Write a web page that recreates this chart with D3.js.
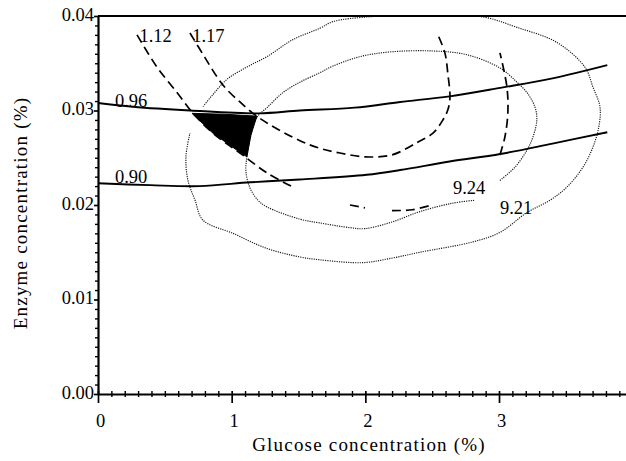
<!DOCTYPE html>
<html>
<head>
<meta charset="utf-8">
<script src="https://cdn.jsdelivr.net/npm/d3@7"></script>
<style>
  body { margin: 0; background: #fff; }
  svg { display: block; }
  text { font-family: "Liberation Serif", "Times New Roman", serif; fill: #000; }
</style>
</head>
<body>
<svg id="chart" width="626" height="461"></svg>
<script>
// Axis ticks
const xTicks = [0, 1, 2, 3];
const xTickLabels = ["0", "1", "2", "3"];
const yTicks = [0, 0.01, 0.02, 0.03, 0.04];
const yTickLabels = ["0.00", "0.01", "0.02", "0.03", "0.04"];

// Iso-response lines: [glucose %, enzyme %]
const line096 = [[0, 0.0308], [0.26, 0.0304], [0.69, 0.0300], [1.2, 0.0297], [1.51, 0.0300], [1.92, 0.0303],
  [2.26, 0.0309], [2.63, 0.0315], [3.01, 0.0324], [3.40, 0.0334], [3.81, 0.0348]];
const line090 = [[0, 0.0223], [0.39, 0.0221], [0.76, 0.0220], [1.14, 0.0224], [1.51, 0.0227], [2.01, 0.0232],
  [2.26, 0.0237], [2.63, 0.0246], [3.01, 0.0254], [3.40, 0.0265], [3.81, 0.0277]];

// 1.12 contour, drawn in the pieces that survive on the plot
const line112 = [
  [[0.292, 0.0380], [0.441, 0.0346], [0.591, 0.0319], [0.711, 0.0297], [0.860, 0.0276], [1.062, 0.0255],
   [1.264, 0.0234], [1.458, 0.0219]],
  [[1.885, 0.0200], [1.997, 0.0197]],
  [[2.199, 0.0194], [2.350, 0.0195], [2.498, 0.0200]],
  [[3.007, 0.0253], [3.044, 0.0272], [3.066, 0.0297], [3.059, 0.0325], [3.007, 0.0361]]
];
const line117 = [[0.688, 0.0382], [0.800, 0.0356], [0.898, 0.0334], [0.965, 0.0322], [1.062, 0.0309],
  [1.159, 0.0297], [1.286, 0.0285], [1.511, 0.0268], [1.660, 0.0260], [1.810, 0.0255], [1.997, 0.0251],
  [2.199, 0.0253], [2.386, 0.0266], [2.506, 0.0276], [2.580, 0.0290], [2.618, 0.0301], [2.633, 0.0314],
  [2.618, 0.0338], [2.595, 0.0361], [2.543, 0.0380]];

const line924 = [[3.007, 0.0226], [3.119, 0.0240], [3.209, 0.0258], [3.254, 0.0272], [3.283, 0.0290],
  [3.268, 0.0304], [3.209, 0.0319], [3.134, 0.0330], [3.007, 0.0345], [2.760, 0.0359], [2.506, 0.0363],
  [2.184, 0.0362], [1.960, 0.0357], [1.758, 0.0347], [1.660, 0.0340], [1.511, 0.0330], [1.384, 0.0319],
  [1.264, 0.0303], [1.189, 0.0293], [1.144, 0.0274], [1.114, 0.0251], [1.107, 0.0235], [1.137, 0.0218],
  [1.197, 0.0205], [1.264, 0.0198], [1.511, 0.0185], [1.660, 0.0181], [1.885, 0.0176], [1.997, 0.0175],
  [2.199, 0.0182], [2.408, 0.0193], [2.655, 0.0202], [2.820, 0.0205]];
const line921 = [[0.785, 0.0304], [0.860, 0.0317], [0.965, 0.0333], [1.114, 0.0346], [1.264, 0.0357],
  [1.458, 0.0375], [1.660, 0.0387], [1.757, 0.0394], [2.012, 0.0399], [2.206, 0.0400], [2.558, 0.0400],
  [2.880, 0.0399], [3.134, 0.0388], [3.433, 0.0372], [3.642, 0.0346], [3.702, 0.0325], [3.755, 0.0304],
  [3.747, 0.0283], [3.702, 0.0261], [3.628, 0.0240], [3.508, 0.0219], [3.381, 0.0205], [3.209, 0.0192],
  [3.007, 0.0171], [2.805, 0.0161], [2.408, 0.0150], [2.206, 0.0144], [1.982, 0.0139], [1.660, 0.0142],
  [1.511, 0.0145], [1.264, 0.0154], [1.010, 0.0170], [0.785, 0.0184], [0.726, 0.0205], [0.673, 0.0226],
  [0.658, 0.0251], [0.688, 0.0276]];

// Region meeting all constraints
const optimum = [[0.703, 0.0297], [0.950, 0.0296], [1.189, 0.0294], [1.144, 0.0274], [1.114, 0.0251],
  [1.040, 0.0258], [0.860, 0.0276]];

// Contour level names and the point where each name sits
const levelNames = ["1.12", "1.17", "0.96", "0.90", "9.24", "9.21"];
const levelNameAt = [[0.31, 0.0380], [0.705, 0.0380], [0.127, 0.0311], [0.127, 0.0230], [2.655, 0.0219], [3.007, 0.0197]];

const svg = d3.select("#chart");
const x = d3.scaleLinear().domain([0, 3.95]).range([98, 626]);
const y = d3.scaleLinear().domain([0, 0.04]).range([394, 16]);

const path = d3.line().x(d => x(d[0])).y(d => y(d[1])).curve(d3.curveCatmullRom.alpha(0.5));

// dotted contours
svg.selectAll("path.dot").data([line924, line921]).join("path")
  .attr("class", "dot").attr("d", path)
  .attr("fill", "none").attr("stroke", "#1a1a1a").attr("stroke-width", 1.15)
  .attr("stroke-dasharray", "1.2,1.1");

// dashed contours
svg.selectAll("path.dash").data([...line112, line117]).join("path")
  .attr("class", "dash").attr("d", path)
  .attr("fill", "none").attr("stroke", "#000").attr("stroke-width", 1.7)
  .attr("stroke-dasharray", "9,5");

// solid contours
svg.selectAll("path.solid").data([line096, line090]).join("path")
  .attr("class", "solid").attr("d", path)
  .attr("fill", "none").attr("stroke", "#000").attr("stroke-width", 1.9);

// optimum region
svg.append("path")
  .attr("d", d3.line().x(d => x(d[0])).y(d => y(d[1]))(optimum) + "Z")
  .attr("fill", "#000").attr("stroke", "#000").attr("stroke-width", 1);

// contour names
svg.selectAll("text.lvl").data(levelNames).join("text")
  .attr("class", "lvl")
  .attr("x", (d, i) => x(levelNameAt[i][0]))
  .attr("y", (d, i) => y(levelNameAt[i][1]))
  .attr("dy", "0.36em")
  .attr("font-size", 18.5)
  .text(d => d);

// top frame line
svg.append("line")
  .attr("x1", x.range()[0]).attr("x2", x.range()[1])
  .attr("y1", y(0.04)).attr("y2", y(0.04))
  .attr("stroke", "#000").attr("stroke-width", 2);

// x axis
const minorX = d3.range(1, 40).map(i => i / 10).filter(v => Math.abs(v - Math.round(v)) > 1e-6);
const gxMinor = svg.append("g").attr("transform", `translate(0,${y(0)})`)
  .call(d3.axisBottom(x).tickValues(minorX).tickSize(3).tickSizeOuter(0).tickFormat(""));
gxMinor.selectAll(".tick line").attr("y1", -3).attr("stroke-width", 1.4);
gxMinor.select(".domain").attr("stroke-width", 2.2);

const gx = svg.append("g").attr("transform", `translate(0,${y(0)})`)
  .call(d3.axisBottom(x).tickValues(xTicks).tickSize(9).tickSizeOuter(0).tickPadding(11)
    .tickFormat((d, i) => xTickLabels[i]));
gx.select(".domain").remove();
gx.selectAll(".tick line").attr("y1", -3).attr("stroke-width", 1.7);
gx.selectAll(".tick text").attr("font-family", null).attr("font-size", 18.5).attr("dx", 2);

// y axis
const minorY = d3.range(1, 40).map(i => i / 1000).filter(v => Math.abs(v * 100 - Math.round(v * 100)) > 1e-6);
const gyMinor = svg.append("g").attr("transform", `translate(${x(0)},0)`)
  .call(d3.axisLeft(y).tickValues(minorY).tickSize(3).tickSizeOuter(0).tickFormat(""));
gyMinor.selectAll(".tick line").attr("stroke-width", 1.4);
gyMinor.select(".domain").attr("stroke-width", 2.2);

const gy = svg.append("g").attr("transform", `translate(${x(0)},0)`)
  .call(d3.axisLeft(y).tickValues(yTicks).tickSize(4).tickSizeOuter(0).tickPadding(0)
    .tickFormat((d, i) => yTickLabels[i]));
gy.select(".domain").remove();
gy.selectAll(".tick line").attr("stroke-width", 1.7);
gy.selectAll(".tick text").attr("font-family", null).attr("font-size", 18.5).attr("dy", "0.22em");

// axis titles
svg.append("text")
  .attr("x", 369).attr("y", 444).attr("dy", "0.35em")
  .attr("text-anchor", "middle").attr("font-size", 19).attr("letter-spacing", 1.2)
  .text("Glucose concentration (%)");
svg.append("text")
  .attr("transform", "translate(20,213) rotate(-90)")
  .attr("dy", "0.35em")
  .attr("text-anchor", "middle").attr("font-size", 19).attr("letter-spacing", 1.2)
  .text("Enzyme concentration (%)");
</script>
</body>
</html>
